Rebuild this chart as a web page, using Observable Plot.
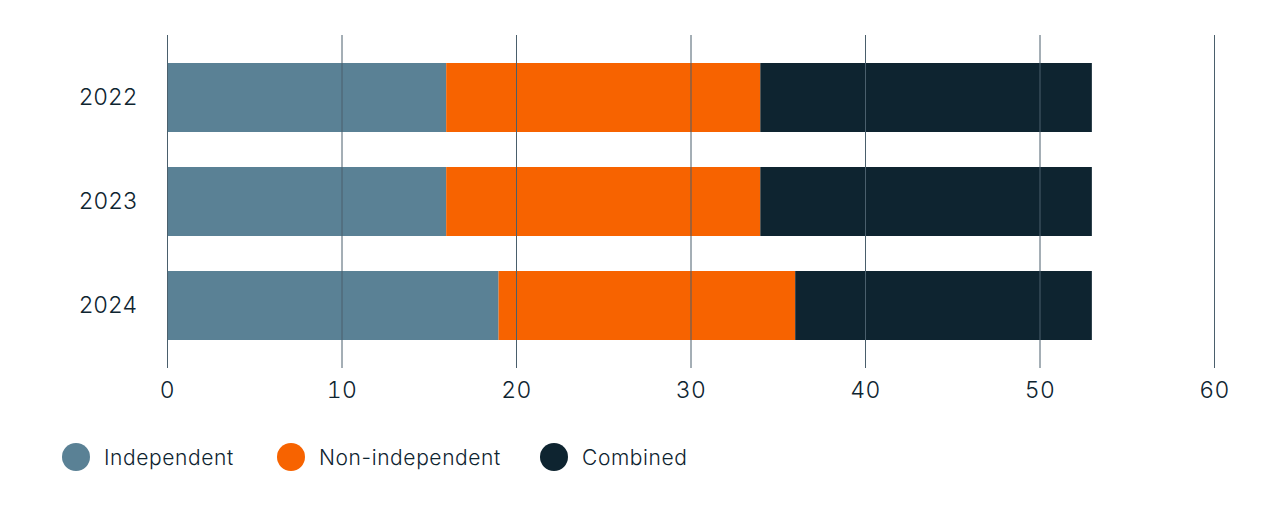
<!DOCTYPE html>
<html>
<head>
<meta charset="utf-8">
<script src="https://cdn.jsdelivr.net/npm/d3@7"></script>
<script src="https://cdn.jsdelivr.net/npm/@observablehq/plot@0.6"></script>
<style>
  html, body { margin: 0; padding: 0; background: #fff; }
  body { width: 1280px; height: 525px; position: relative; font-family: "Inter", "Lato", sans-serif; font-weight: 300; color: #0e2430; }
  #chart { position: absolute; left: 0; top: 0; }
  #chart svg text { letter-spacing: 0.5px; }
  #legend { position: absolute; left: 0; top: 443px; height: 28px; width: 1280px; }
  .item { position: absolute; top: 0; height: 28px; display: flex; align-items: center; font-size: 21px; font-weight: 300; letter-spacing: 0.6px; color: #0e2430; }
  .dot { width: 28px; height: 28px; border-radius: 50%; margin-right: 14px; }
</style>
</head>
<body>
<div id="chart"></div>
<div id="legend"></div>
<script>
const years = ["2022", "2023", "2024"];
const seriesNames = ["Independent", "Non-independent", "Combined"];
const independent = [16, 16, 19];
const nonIndependent = [18, 18, 17];
const combined = [19, 19, 17];
const colors = ["#5a8195", "#f76300", "#0e2430"];
const xTicks = [0, 10, 20, 30, 40, 50, 60];

const valuesBySeries = [independent, nonIndependent, combined];
const data = [];
seriesNames.forEach((s, si) => {
  years.forEach((y, yi) => data.push({year: y, series: s, value: valuesBySeries[si][yi]}));
});

const chart = Plot.plot({
  width: 1280,
  height: 420,
  marginLeft: 167,
  marginRight: 66,
  marginTop: 35,
  marginBottom: 52,
  style: {fontFamily: "Inter, Lato, sans-serif", fontSize: "23px", fontWeight: 300, color: "#0e2430", background: "transparent"},
  x: {domain: [0, 60], ticks: xTicks, label: null, tickSize: 0, tickPadding: 13},
  y: {domain: years, label: null, tickSize: 0, tickPadding: 30, paddingInner: 0.34, paddingOuter: 0.26},
  color: {domain: seriesNames, range: colors},
  marks: [
    Plot.barX(data, Plot.stackX({y: "year", x: "value", fill: "series", order: seriesNames})),
    Plot.ruleX(xTicks, {stroke: "#4a5f6c", strokeWidth: 1})
  ]
});
document.getElementById("chart").appendChild(chart);

const legendLefts = [62, 277, 540];
const legend = document.getElementById("legend");
seriesNames.forEach((s, i) => {
  const item = document.createElement("div");
  item.className = "item";
  item.style.left = legendLefts[i] + "px";
  const dot = document.createElement("span");
  dot.className = "dot";
  dot.style.background = colors[i];
  const label = document.createElement("span");
  label.textContent = s;
  item.appendChild(dot);
  item.appendChild(label);
  legend.appendChild(item);
});
</script>
</body>
</html>
